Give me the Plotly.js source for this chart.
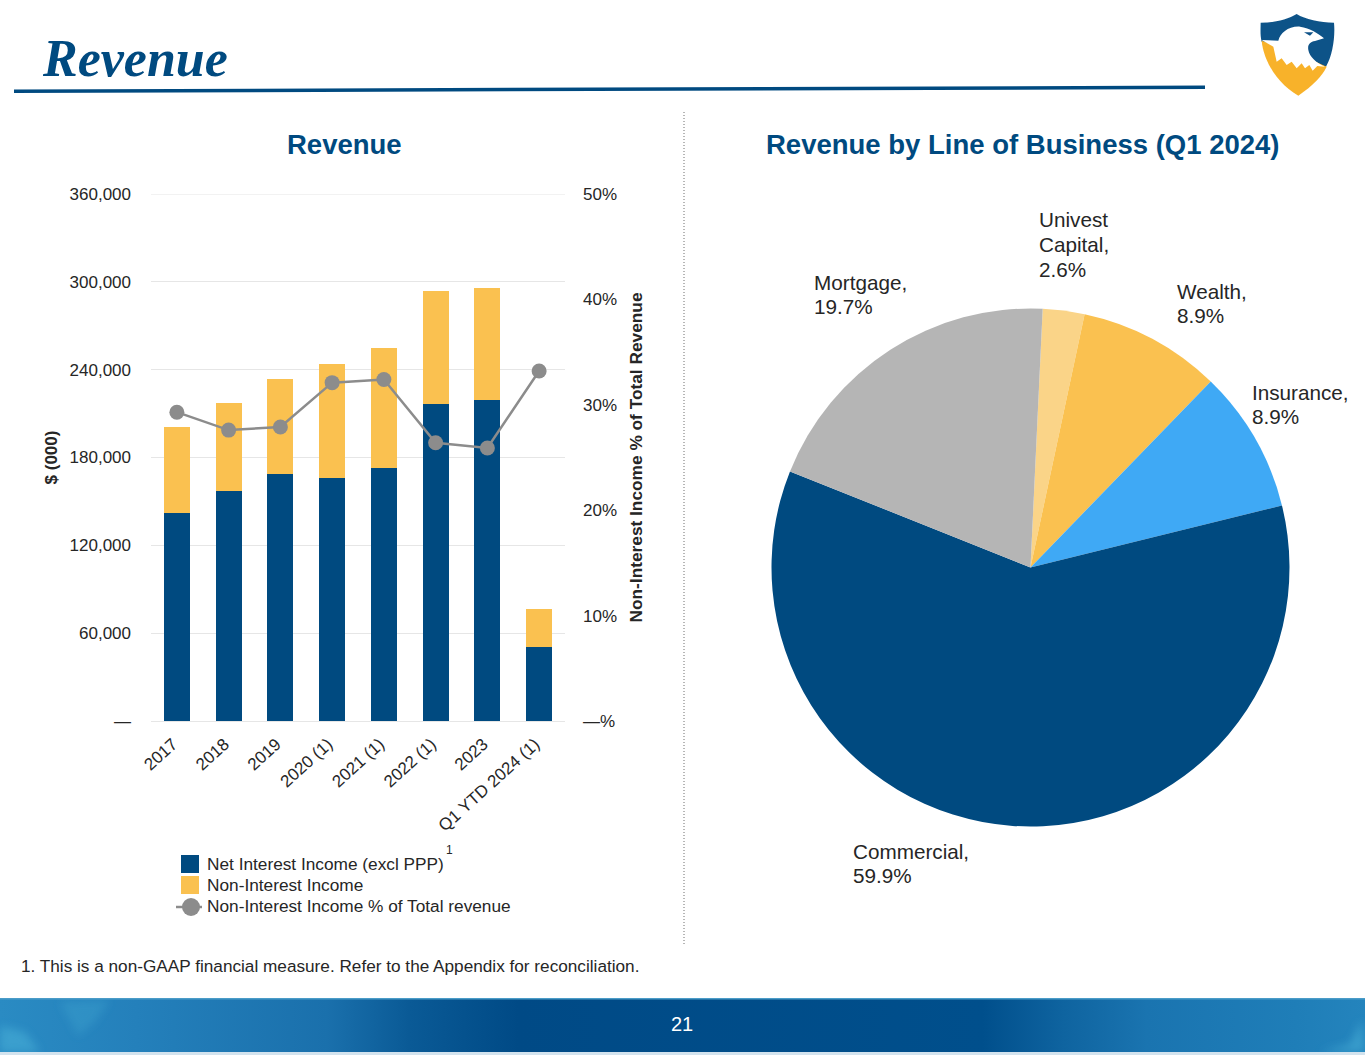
<!DOCTYPE html>
<html>
<head>
<meta charset="utf-8">
<script src="https://cdn.plot.ly/plotly-3.0.1.min.js"></script>
<style>html,body{margin:0;padding:0;background:#fff;overflow:hidden}#c{width:1365px;height:1055px}</style>
</head>
<body>
<div id="c"></div>
<script>
// ---- chart data ----
const categories = ['2017','2018','2019','2020 (1)','2021 (1)','2022 (1)','2023','Q1 YTD 2024 (1)'];
const netInterestIncome = [142000,157100,168700,166000,172800,216500,219300,50500];
const nonInterestIncome = [58800,60100,64900,77900,82000,77200,76500,26000];
const nonInterestPct = [29.3,27.6,27.9,32.1,32.4,26.4,25.9,33.2];
const leftTickVals = [0,60000,120000,180000,240000,300000,360000];
const leftTickText = ['—','60,000','120,000','180,000','240,000','300,000','360,000'];
const rightTickVals = [0,10,20,30,40,50];
const rightTickText = ['—%','10%','20%','30%','40%','50%'];
const pieNames = ['Univest Capital','Wealth','Insurance','Commercial','Mortgage'];
const pieShares = [2.6,8.9,8.9,59.9,19.7];
const pieColors = ['#fad488','#fac150','#3fa9f5','#004a80','#b5b5b5'];

const W = 1365, H = 1055;
const NAVY = '#004a80', GOLD = '#fac150', GREY = '#8c8c8c', SERIF = '"Liberation Serif","Times New Roman",serif', SANS = '"Liberation Sans",Arial,sans-serif';
const fx = x => x / W, fy = y => 1 - y / H;

function txt(text, x, y, size, opt) {
  return Object.assign({
    text, x: fx(x - 2), y: fy(y), xref: 'paper', yref: 'paper', showarrow: false,
    xanchor: 'left', yanchor: 'middle', align: 'left',
    font: {family: SANS, size, color: '#262626'}
  }, opt || {});
}
function rect(x0, y0, x1, y1, color) {
  return {type:'rect', xref:'paper', yref:'paper', x0:fx(x0), x1:fx(x1), y0:fy(y0), y1:fy(y1),
          fillcolor:color, line:{width:0}, layer:'above'};
}
function line(x0, y0, x1, y1, color, width, dash) {
  return {type:'line', xref:'paper', yref:'paper', x0:fx(x0), x1:fx(x1), y0:fy(y0), y1:fy(y1),
          line:{color, width, dash:dash||'solid'}, layer:'above'};
}
function svgURI(s){ return 'data:image/svg+xml;utf8,' + encodeURIComponent(s); }

const footerSVG = `<svg xmlns="http://www.w3.org/2000/svg" width="1365" height="57" viewBox="0 0 1365 57">
<defs><linearGradient id="g" x1="0" x2="1" y1="0" y2="0">
<stop offset="0" stop-color="#2a8bc3"/><stop offset="0.1" stop-color="#2480bb"/><stop offset="0.24" stop-color="#1a70ac"/>
<stop offset="0.3" stop-color="#0a5a96"/><stop offset="0.38" stop-color="#004a86"/><stop offset="0.72" stop-color="#004f8c"/>
<stop offset="0.78" stop-color="#0f64a0"/><stop offset="0.84" stop-color="#1a74b0"/><stop offset="0.95" stop-color="#1f7eb8"/><stop offset="1" stop-color="#2484bd"/></linearGradient>
<filter id="b"><feGaussianBlur stdDeviation="4"/></filter></defs>
<rect width="1365" height="55" fill="url(#g)"/>
<g filter="url(#b)" fill="#46add6" opacity=".6">
<path d="M0 28 L25 34 L40 54 L0 54Z"/><path d="M60 4 L110 2 L95 24 L78 38Z" opacity=".5"/><path d="M1362 22 L1350 46 L1320 54 L1365 54Z"/></g>
<rect y="0" width="1365" height="1.5" fill="#4a9cc8"/>
<rect y="54" width="1365" height="3" fill="#d3e3ee"/>
</svg>`;

const logoSVG = `<svg xmlns="http://www.w3.org/2000/svg" width="130" height="110" viewBox="0 0 390 330">
<defs><filter id="s"><feGaussianBlur stdDeviation="1.5"/></filter></defs>
<g filter="url(#s)">
<path d="M200,42 C225,58 270,68 312,68 C316,110 308,165 288,200 L95,125 C90,105 92,85 92,68 C135,68 175,58 200,42Z" fill="#0f5288"/>
<path d="M95,122 C100,180 140,250 205,287 C250,255 275,230 290,200 L180,150 Z" fill="#f8b22a"/>
<path d="M95,120 L145,122 C150,100 175,78 210,80 C240,85 265,100 282,115 L255,123 C240,125 232,135 235,150 C238,170 260,190 285,200 L262,198 L248,212 L238,195 L225,205 L215,190 L200,205 L185,185 L170,195 L155,175 L140,185 L130,140 Z" fill="#fff"/>
<path d="M222,97 L250,97 L240,107Z" fill="#0f5288"/>
</g></svg>`;

// multi-line labels: one annotation per line, to hold the reference's line pitch
function lines(arr, x, ys, size) { return arr.map((t, i) => txt(t, x, ys[i], size)); }

const annotations = [
  txt('Revenue', 44 - 2, 58, 52, {font:{family:SERIF, size:52, color:NAVY, weight:700, style:'italic'}}),
  txt('<b>Revenue</b>', 344, 145, 27.5, {x:fx(344), xanchor:'center', font:{family:SANS,size:27.5,color:NAVY}}),
  txt('<b>Revenue by Line of Business (Q1 2024)</b>', 1023, 145, 27.5, {x:fx(1023), xanchor:'center', font:{family:SANS,size:27.5,color:NAVY}}),

  ...lines(['Univest','Capital,','2.6%'], 1039, [220,244.5,269], 20.7),
  ...lines(['Mortgage,','19.7%'], 814, [282,306.5], 20.7),
  ...lines(['Wealth,','8.9%'], 1177, [291.5,315.5], 20.7),
  ...lines(['Insurance,','8.9%'], 1252, [392,416.5], 20.7),
  ...lines(['Commercial,','59.9%'], 853, [851,875.5], 20.7),

  txt('Net Interest Income (excl PPP)', 207, 864, 17.25),
  txt('1', 446, 850, 12),
  txt('Non-Interest Income', 207, 884.5, 17.25),
  txt('Non-Interest Income % of Total revenue', 207, 905.5, 17.25),
  txt('1. This is a non-GAAP financial measure. Refer to the Appendix for reconciliation.', 21, 965.5, 17.2),
  txt('21', 682, 1024, 20, {x:fx(682), xanchor:'center', font:{family:SANS,size:20,color:'#ffffff'}})
];

const shapes = [
  {type:'path', xref:'paper', yref:'paper', layer:'above', fillcolor:NAVY, line:{width:0},
   path:`M${fx(14)},${fy(89.5)} L${fx(1205)},${fy(85.5)} L${fx(1205)},${fy(89)} L${fx(14)},${fy(93)} Z`},
  line(684,112,684,944,'#6f6f6f',1,'1px,2px'),
  {type:'line', xref:'paper', yref:'y', x0:fx(151), x1:fx(565), y0:leftTickVals[6], y1:leftTickVals[6], line:{color:'#e6e6e6', width:1}, layer:'below'},
  rect(181,855,199,873,NAVY),
  rect(181,876,199,894,GOLD),
  line(176,907,202,907,GREY,2.5),
  {type:'circle', xref:'paper', yref:'paper', x0:fx(182), x1:fx(200), y0:fy(898), y1:fy(916),
   fillcolor:GREY, line:{width:0}, layer:'above'}
];

const traces = [
  {type:'bar', name:'Net Interest Income (excl PPP)', x:categories, y:netInterestIncome, marker:{color:NAVY}, xaxis:'x', yaxis:'y'},
  {type:'bar', name:'Non-Interest Income', x:categories, y:nonInterestIncome, marker:{color:GOLD}, xaxis:'x', yaxis:'y'},
  {type:'scatter', mode:'lines+markers', name:'Non-Interest Income % of Total revenue', x:categories, y:nonInterestPct,
   line:{color:GREY, width:2.5}, marker:{color:GREY, size:15}, xaxis:'x', yaxis:'y2'},
  {type:'pie', labels:pieNames, values:pieShares, sort:false, direction:'clockwise', rotation:2.7,
   marker:{colors:pieColors, line:{width:0}}, textinfo:'none', hoverinfo:'label+percent',
   domain:{x:[fx(771.5), fx(1289.5)], y:[fy(826.5), fy(308.5)]}}
];

const layout = {
  width:W, height:H, margin:{l:0,r:0,t:0,b:0}, paper_bgcolor:'rgba(0,0,0,0)', plot_bgcolor:'rgba(0,0,0,0)',
  showlegend:false, barmode:'stack', bargap:0.5,
  font:{family:SANS, color:'#262626'},
  xaxis:{domain:[fx(151),fx(565)], type:'category', range:[-0.5,7.5], tickangle:-42, ticks:'', showline:false, showgrid:false,
         zeroline:false, tickfont:{family:SANS,size:17,color:'#262626'}, ticklabelstandoff:9, ticklabelshift:-4, anchor:'y', automargin:false},
  yaxis:{domain:[fy(721),fy(194)], range:[0,360000], tickvals:leftTickVals, ticktext:leftTickText, ticks:'',
         showgrid:true, gridcolor:'#e6e6e6', gridwidth:1, zeroline:true, zerolinecolor:'#e6e6e6', showline:false,
         tickfont:{family:SANS,size:17,color:'#262626'}, ticklabelstandoff:19, anchor:'x', automargin:false,
         title:{text:'<b>$ (000)</b>', font:{family:SANS,size:17,color:'#262626'}, standoff:7}},
  yaxis2:{domain:[fy(721),fy(194)], range:[0,50], overlaying:'y', side:'right', tickvals:rightTickVals, ticktext:rightTickText,
          ticks:'', showgrid:false, zeroline:false, showline:false, anchor:'x',
          tickfont:{family:SANS,size:17,color:'#262626'}, ticklabelstandoff:17, automargin:false,
          title:{text:'<b>Non-Interest Income % of Total Revenue</b>', font:{family:SANS,size:17.3,color:'#262626'}, standoff:13}},
  annotations, shapes,
  images:[
    {source:svgURI(footerSVG), xref:'paper', yref:'paper', x:0, y:fy(998), sizex:1, sizey:57/H, xanchor:'left', yanchor:'top', sizing:'stretch', layer:'below'},
    {source:svgURI(logoSVG), xref:'paper', yref:'paper', x:fx(1230), y:fy(0), sizex:130/W, sizey:110/H, xanchor:'left', yanchor:'top', sizing:'stretch', layer:'below'}
  ]
};
Plotly.newPlot('c', traces, layout, {displayModeBar:false, staticPlot:true});
</script>
</body>
</html>
